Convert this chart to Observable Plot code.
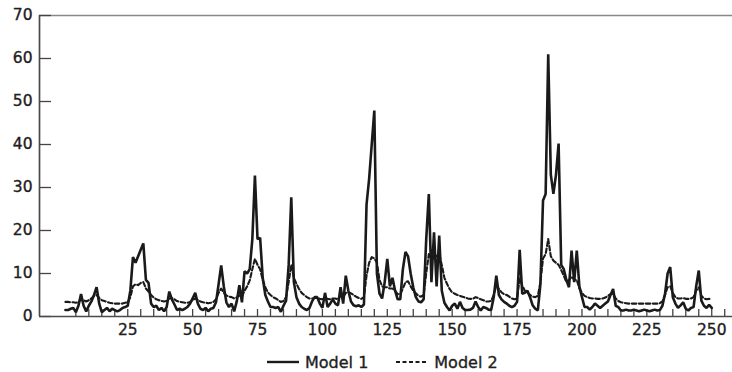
<!DOCTYPE html>
<html>
<head>
<meta charset="utf-8">
<script src="https://cdn.jsdelivr.net/npm/d3@7"></script>
<script src="https://cdn.jsdelivr.net/npm/@observablehq/plot@0.6"></script>
<style>
  html, body { margin: 0; padding: 0; background: #fff; }
  #chart svg text { stroke: #1e1e1e; stroke-width: 0.35px; }
  #legend { display: flex; align-items: center; margin-top: 8px; margin-left: 267px; height: 20px;
            font-family: "DejaVu Sans", sans-serif; font-size: 16px; color: #1e1e1e;
            -webkit-text-stroke: 0.35px #1e1e1e; }
  #legend .item { display: flex; align-items: center; margin-right: 28px; }
  #legend svg { margin-right: 6px; }
</style>
</head>
<body>
<div id="chart"></div>
<div id="legend"></div>
<script>
const seriesNames = ["Model 1", "Model 2"];
const model1 = [
  1.5,1.5,1.8,2,1,2.5,5.2,2.5,1.2,2.5, 3.5,5,6.8,3,1,1.5,2,1.2,1.8,1.5,
  1.2,1.5,2,2.2,2.5,6,13.8,12.5,14,15.5, 17,8.5,7.8,3,2.2,2.5,1.5,2,1.2,2.2,
  5.8,4,2.8,1.5,1.8,1.5,1.8,2.2,3,4.2, 5.5,3,1.8,1.5,2,1.2,1.8,2,3.3,7.5,
  11.9,7,3.3,2.2,3,1.2,3.5,7.3,3.3,10.5, 10,11,18,32.8,18,18.3,9,5,3.5,2.2,
  2.2,2,2.2,1.1,2.5,3.7,12,27.7,8,4.5, 3,2.2,1.8,1.5,2,3.5,4.5,4.5,3,2,
  5.5,2.2,3,4,3,2.6,6.8,3,9.5,6, 3.5,2.6,2.4,2.6,2.2,2.8,26,32,40,47.9,
  10,5.3,4.2,8,13.4,7,9,6,4,4, 11,15,14,10,6.8,4.5,3.5,3.3,4,18,
  28.5,8,19.6,7,18.8,6,3.2,2.2,1.4,2.5, 3,1.8,3.4,2,1.5,1.5,1.6,2,3.5,2.2,
  1.4,2.2,2,1.6,1.5,4.5,9.5,5,4,3.4, 3,2.5,2.2,2.5,3.4,15.5,5.3,5.5,6,4.5,
  2.6,1.8,1.4,7.6,27,28.5,61,33,28.5,33, 40.2,12,11,8.5,6.8,15.3,8,15.3,7,4.5,
  2.2,2.2,1.6,2.2,3,2.5,2,2.5,3,3.5, 5,6.4,2.5,2.2,1.4,1.4,1.6,1.4,1.4,1.6,
  1.4,1.2,1.4,1.6,1.4,1.2,1.4,1.6,1.4,1.5, 2.5,5.3,10,11.5,4.5,3,2,2.6,3.3,1.8,
  1.4,2,2.2,7,10.7,3.7,2.5,2,2.7,2
];
const model2 = [
  3.4,3.4,3.3,3.3,3.2,3.3,4,3.8,3.5,3.8, 4.2,4.8,5,4.3,3.8,3.6,3.4,3.2,3.1,3,
  3,3,3,3.2,3.3,4.5,7,7.5,7.3,7.8, 8,6.5,5.8,5,4.4,4,3.8,3.6,3.5,3.6,
  4.2,4.3,4,3.6,3.4,3.3,3.2,3.2,3.4,3.8, 4.2,3.8,3.5,3.3,3.2,3.1,3.2,3.4,4,5.5,
  6.5,5.5,4.9,4.6,4.5,4.2,4.4,4.9,4.6,6, 7,8.4,11,13.4,12,11,8.5,6.8,5.6,5,
  4.5,4.2,3.8,3.4,3.6,4.5,8,12,9,7.6, 6.4,5.5,5,4.5,4.2,4.2,4.3,4.3,4.1,4,
  4.3,4.1,4,4.2,4.2,4,4.8,4.5,5.5,5.6, 5.4,5,4.6,4.3,4.1,4.5,9.5,12.5,13.8,13.5,
  12.5,8.5,7,6.8,6.8,6.5,6.5,6,5.2,5.2, 6.5,8,8.2,7,6,5.4,4.8,4.6,5,10,
  14.5,13.5,14.5,14,14.5,12,9,7.6,6.4,5.6, 5.3,5,4.8,4.6,4.4,4.2,4.1,4.1,4.5,4.3,
  4,3.8,3.5,3.5,3.6,5,7.2,6.4,5.6,5.2, 5,4.6,4.2,4,4.2,8.8,7.2,6,5.6,5,
  4.6,4.5,4.8,8,13.5,14.5,18,14,13,12.5, 12,10.8,9.5,8,8.5,9.2,8.6,8.5,6.5,5.5,
  4.8,4.5,4.3,4.2,4.2,4.1,4.1,4.2,4.4,4.8, 5.2,5.3,4.2,3.6,3.3,3.2,3.1,3,3,3,
  3,3,3,3,3,3,3,3,3,3.1, 3.5,5,6.8,7,5.5,4.5,4.2,4.2,4.3,4.1,
  4.1,4.2,4.5,6,6.8,4.8,4.2,4,4.1,4
];
const xLabelTicks = [25, 50, 75, 100, 125, 150, 175, 200, 225, 250];
const xMinorTicks = d3.range(5, 256, 5);
const yTicks = [0, 10, 20, 30, 40, 50, 60, 70];

const obs = d3.range(1, model1.length + 1);
const rows1 = obs.map((x, i) => ({x, y: model1[i]}));
const rows2 = obs.map((x, i) => ({x, y: model2[i]}));

const W = 732, H = 344, mL = 39, mR = 0, mT = 15, mB = 28;
const innerW = W - mL - mR, innerH = H - mT - mB;
const xMin = -9, xMax = 258;

const chart = Plot.plot({
  width: W, height: H,
  marginLeft: mL, marginRight: mR, marginTop: mT, marginBottom: mB,
  style: {fontFamily: "DejaVu Sans, sans-serif", fontSize: "15.5px", color: "#1e1e1e", background: "#fff", overflow: "visible"},
  x: {domain: [xMin, xMax], ticks: xLabelTicks, tickSize: 0, tickPadding: 7, label: null},
  y: {domain: [0, 70], ticks: yTicks, tickSize: 0, tickPadding: 7, label: null},
  marks: [
    Plot.ruleY([70], {stroke: "#888", strokeWidth: 1.5}),
    Plot.tickX(xMinorTicks, {x: d => d, insetTop: innerH - 7, stroke: "#444", strokeWidth: 1.3}),
    Plot.tickY(yTicks, {y: d => d, insetRight: innerW - 12, stroke: "#444", strokeWidth: 1.3}),
    Plot.line(rows2, {x: "x", y: "y", stroke: "#1a1a1a", strokeWidth: 2.1, strokeDasharray: "4.5,2.5"}),
    Plot.line(rows1, {x: "x", y: "y", stroke: "#1a1a1a", strokeWidth: 2.6, strokeLinejoin: "miter"}),
    Plot.ruleY([0], {stroke: "#4a4a4a", strokeWidth: 1.7}),
    Plot.ruleX([xMin], {stroke: "#4a4a4a", strokeWidth: 1.7})
  ]
});
document.getElementById("chart").appendChild(chart);

const legend = document.getElementById("legend");
const dashes = [null, "4,2.5"];
seriesNames.forEach((name, i) => {
  const item = document.createElement("div");
  item.className = "item";
  item.innerHTML = `<svg width="32" height="10"><line x1="0" y1="5" x2="32" y2="5" stroke="#1a1a1a" stroke-width="${i ? 2 : 2.4}" ${dashes[i] ? `stroke-dasharray="${dashes[i]}"` : ""}/></svg><span>${name}</span>`;
  legend.appendChild(item);
});
</script>
</body>
</html>
